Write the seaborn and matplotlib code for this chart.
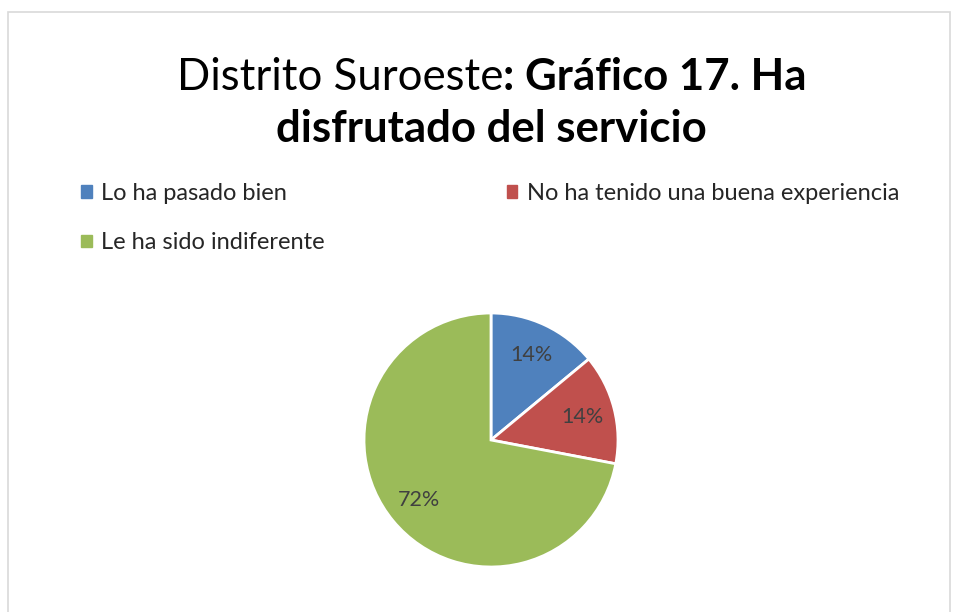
import matplotlib
matplotlib.use("Agg")
import matplotlib.pyplot as plt
import seaborn as sns
from matplotlib.patches import Rectangle, Patch

# Chart data
labels = ["Lo ha pasado bien", "No ha tenido una buena experiencia", "Le ha sido indiferente"]
shares = [14, 14, 72]
colors = ["#4F81BD", "#C0504D", "#9BBB59"]

title_plain = "Distrito Suroeste"
title_bold_1 = ": Gráfico 17. Ha"
title_bold_2 = "disfrutado del servicio"

sns.set_theme(style="white")
plt.rcParams["font.family"] = ["Lato", "DejaVu Sans"]

W, H = 956, 612
fig = plt.figure(figsize=(W / 100, H / 100), dpi=100)
fig.patch.set_facecolor("white")

# chart area border (Excel style)
fig.patches.append(Rectangle((8 / W, -0.05), 942 / W, 1.05 - 12 / H,
                             transform=fig.transFigure, fill=False,
                             edgecolor="#d9d9d9", linewidth=1.2))

# title: first line mixes regular and bold text
fs_title = 31.5
renderer = fig.canvas.get_renderer()
t1 = fig.text(0, 1 - 90 / H, title_plain, fontsize=fs_title, color="black", va="baseline")
t2 = fig.text(0, 1 - 90 / H, title_bold_1, fontsize=fs_title, fontweight="bold",
              color="black", va="baseline")
w1 = t1.get_window_extent(renderer).width
w2 = t2.get_window_extent(renderer).width
x0 = 491.5 - (w1 + w2) / 2
t1.set_x(x0 / W)
t2.set_x((x0 + w1) / W)
fig.text(491.5 / W, 1 - 142 / H, title_bold_2, fontsize=fs_title, fontweight="bold",
         color="black", ha="center", va="baseline")

# pie
cx, cy, r = 491, 440, 127
ax = fig.add_axes([(cx - r) / W, (H - cy - r) / H, 2 * r / W, 2 * r / H])
wedges, texts, autotexts = ax.pie(
    shares, colors=colors, startangle=90, counterclock=False,
    autopct=lambda p: f"{p:.0f}%", pctdistance=0.74,
    wedgeprops=dict(edgecolor="white", linewidth=2),
    textprops=dict(fontsize=15.5, color="#404040"))
ax.set_xlim(-1.0, 1.0)
ax.set_ylim(-1.0, 1.0)
ax.axis("off")

# legend (row-wise order: blue, red / green)
handles = [Patch(color=c) for c in colors]
order = [0, 2, 1]
fig.legend([handles[i] for i in order], [labels[i] for i in order],
           ncol=2, loc="upper left", bbox_to_anchor=(81 / W, 1 - 183 / H),
           frameon=False, fontsize=17, handlelength=0.45, handleheight=0.45,
           handletextpad=0.4, labelspacing=1.2, columnspacing=7.7,
           borderaxespad=0, borderpad=0)

fig.savefig("out.png", dpi=100)
